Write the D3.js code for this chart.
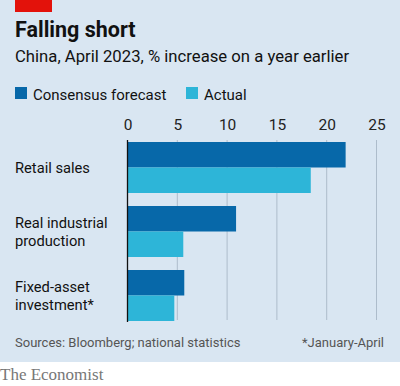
<!DOCTYPE html>
<html>
<head>
<meta charset="utf-8">
<script src="https://cdn.jsdelivr.net/npm/d3@7"></script>
<style>
  html, body { margin: 0; padding: 0; background: #ffffff; }
  svg { display: block; }
  text { font-family: "Roboto", "Noto Sans", sans-serif; }
</style>
</head>
<body>
<script>
'use strict';

// chart data
const categories = ["Retail sales", "Real industrial production", "Fixed-asset investment*"];
const categoryLines = [["Retail sales"], ["Real industrial", "production"], ["Fixed-asset", "investment*"]];
const seriesNames = ["Consensus forecast", "Actual"];
const forecastValues = [21.9, 10.9, 5.7];
const actualValues = [18.4, 5.6, 4.7];
const xTicks = [0, 5, 10, 15, 20, 25];

const colors = { "Consensus forecast": "#0768a9", "Actual": "#2db5d8" };

const width = 400, height = 386;

const svg = d3.select('body')
  .append('svg')
  .attr('width', width)
  .attr('height', height);

// light blue panel, white strip at the bottom for the logo
svg.append('rect')
  .attr('width', width)
  .attr('height', 362)
  .attr('fill', '#d9e6f2');

// red tag
svg.append('rect')
  .attr('x', 15).attr('y', 0)
  .attr('width', 37).attr('height', 12)
  .attr('fill', '#e3120b');

// title and subtitle
svg.append('text')
  .attr('x', 15).attr('y', 37)
  .style('font-size', '21.5px')
  .style('font-weight', 'bold')
  .attr('fill', '#111')
  .text('Falling short');

svg.append('text')
  .attr('x', 15).attr('y', 62)
  .style('font-size', '16.7px')
  .attr('fill', '#111')
  .text('China, April 2023, % increase on a year earlier');

// legend
const legendX = [15, 186];
seriesNames.forEach((name, i) => {
  svg.append('rect')
    .attr('x', legendX[i]).attr('y', 87)
    .attr('width', 12).attr('height', 12)
    .attr('fill', colors[name]);
  svg.append('text')
    .attr('x', legendX[i] + 18).attr('y', 100)
    .style('font-size', '15px')
    .attr('fill', '#111')
    .text(name);
});

// scales
const x = d3.scaleLinear()
  .domain([0, 25])
  .range([127.5, 376.5]);

const y = d3.scaleBand()
  .domain(categories)
  .range([142, 321])
  .paddingInner(13 / 64)
  .paddingOuter(0);

const ySeries = d3.scaleBand()
  .domain(seriesNames)
  .range([0, y.bandwidth()]);

// gridlines
svg.append('g')
  .selectAll('line')
  .data(xTicks.filter(d => d !== 0))
  .join('line')
  .attr('x1', d => x(d)).attr('x2', d => x(d))
  .attr('y1', 140).attr('y2', 320)
  .attr('stroke', '#adbccb')
  .attr('stroke-width', 1);

// top axis labels
const xAxis = d3.axisTop(x)
  .tickValues(xTicks)
  .tickSize(0)
  .tickPadding(0);

const axisG = svg.append('g')
  .attr('transform', 'translate(0, 130)')
  .call(xAxis);
axisG.select('.domain').remove();
axisG.selectAll('text')
  .style('font-size', '15.5px')
  .style('font-family', '"Roboto", "Noto Sans", sans-serif')
  .attr('fill', '#222');

// bars
const rows = categories.map((c, i) => ({
  category: c,
  values: [
    { series: "Consensus forecast", value: forecastValues[i] },
    { series: "Actual", value: actualValues[i] }
  ]
}));

const groups = svg.append('g')
  .selectAll('g')
  .data(rows)
  .join('g')
  .attr('transform', d => `translate(0, ${y(d.category)})`);

groups.selectAll('rect')
  .data(d => d.values)
  .join('rect')
  .attr('x', x(0))
  .attr('y', d => ySeries(d.series))
  .attr('width', d => x(d.value) - x(0))
  .attr('height', ySeries.bandwidth())
  .attr('fill', d => colors[d.series]);

// zero line
svg.append('line')
  .attr('x1', x(0)).attr('x2', x(0))
  .attr('y1', 140).attr('y2', 322)
  .attr('stroke', '#111')
  .attr('stroke-width', 1.3);

// category labels
const lineGap = 18.5;
categories.forEach((c, i) => {
  const lines = categoryLines[i];
  const mid = y(c) + y.bandwidth() / 2;
  const first = mid + 5.5 - (lines.length - 1) * lineGap / 2;
  const t = svg.append('text')
    .attr('x', 15)
    .style('font-size', '14.7px')
    .attr('fill', '#111');
  lines.forEach((ln, j) => {
    t.append('tspan')
      .attr('x', 15)
      .attr('y', first + j * lineGap)
      .text(ln);
  });
});

// footer
svg.append('text')
  .attr('x', 15).attr('y', 347)
  .style('font-size', '13px')
  .attr('fill', '#555')
  .text('Sources: Bloomberg; national statistics');

svg.append('text')
  .attr('x', 384).attr('y', 347)
  .attr('text-anchor', 'end')
  .style('font-size', '13px')
  .attr('fill', '#555')
  .text('*January-April');

svg.append('text')
  .attr('x', 0).attr('y', 380)
  .style('font-size', '17px')
  .style('font-family', '"Liberation Serif", "DejaVu Serif", serif')
  .attr('fill', '#777')
  .text('The Economist');
</script>
</body>
</html>
